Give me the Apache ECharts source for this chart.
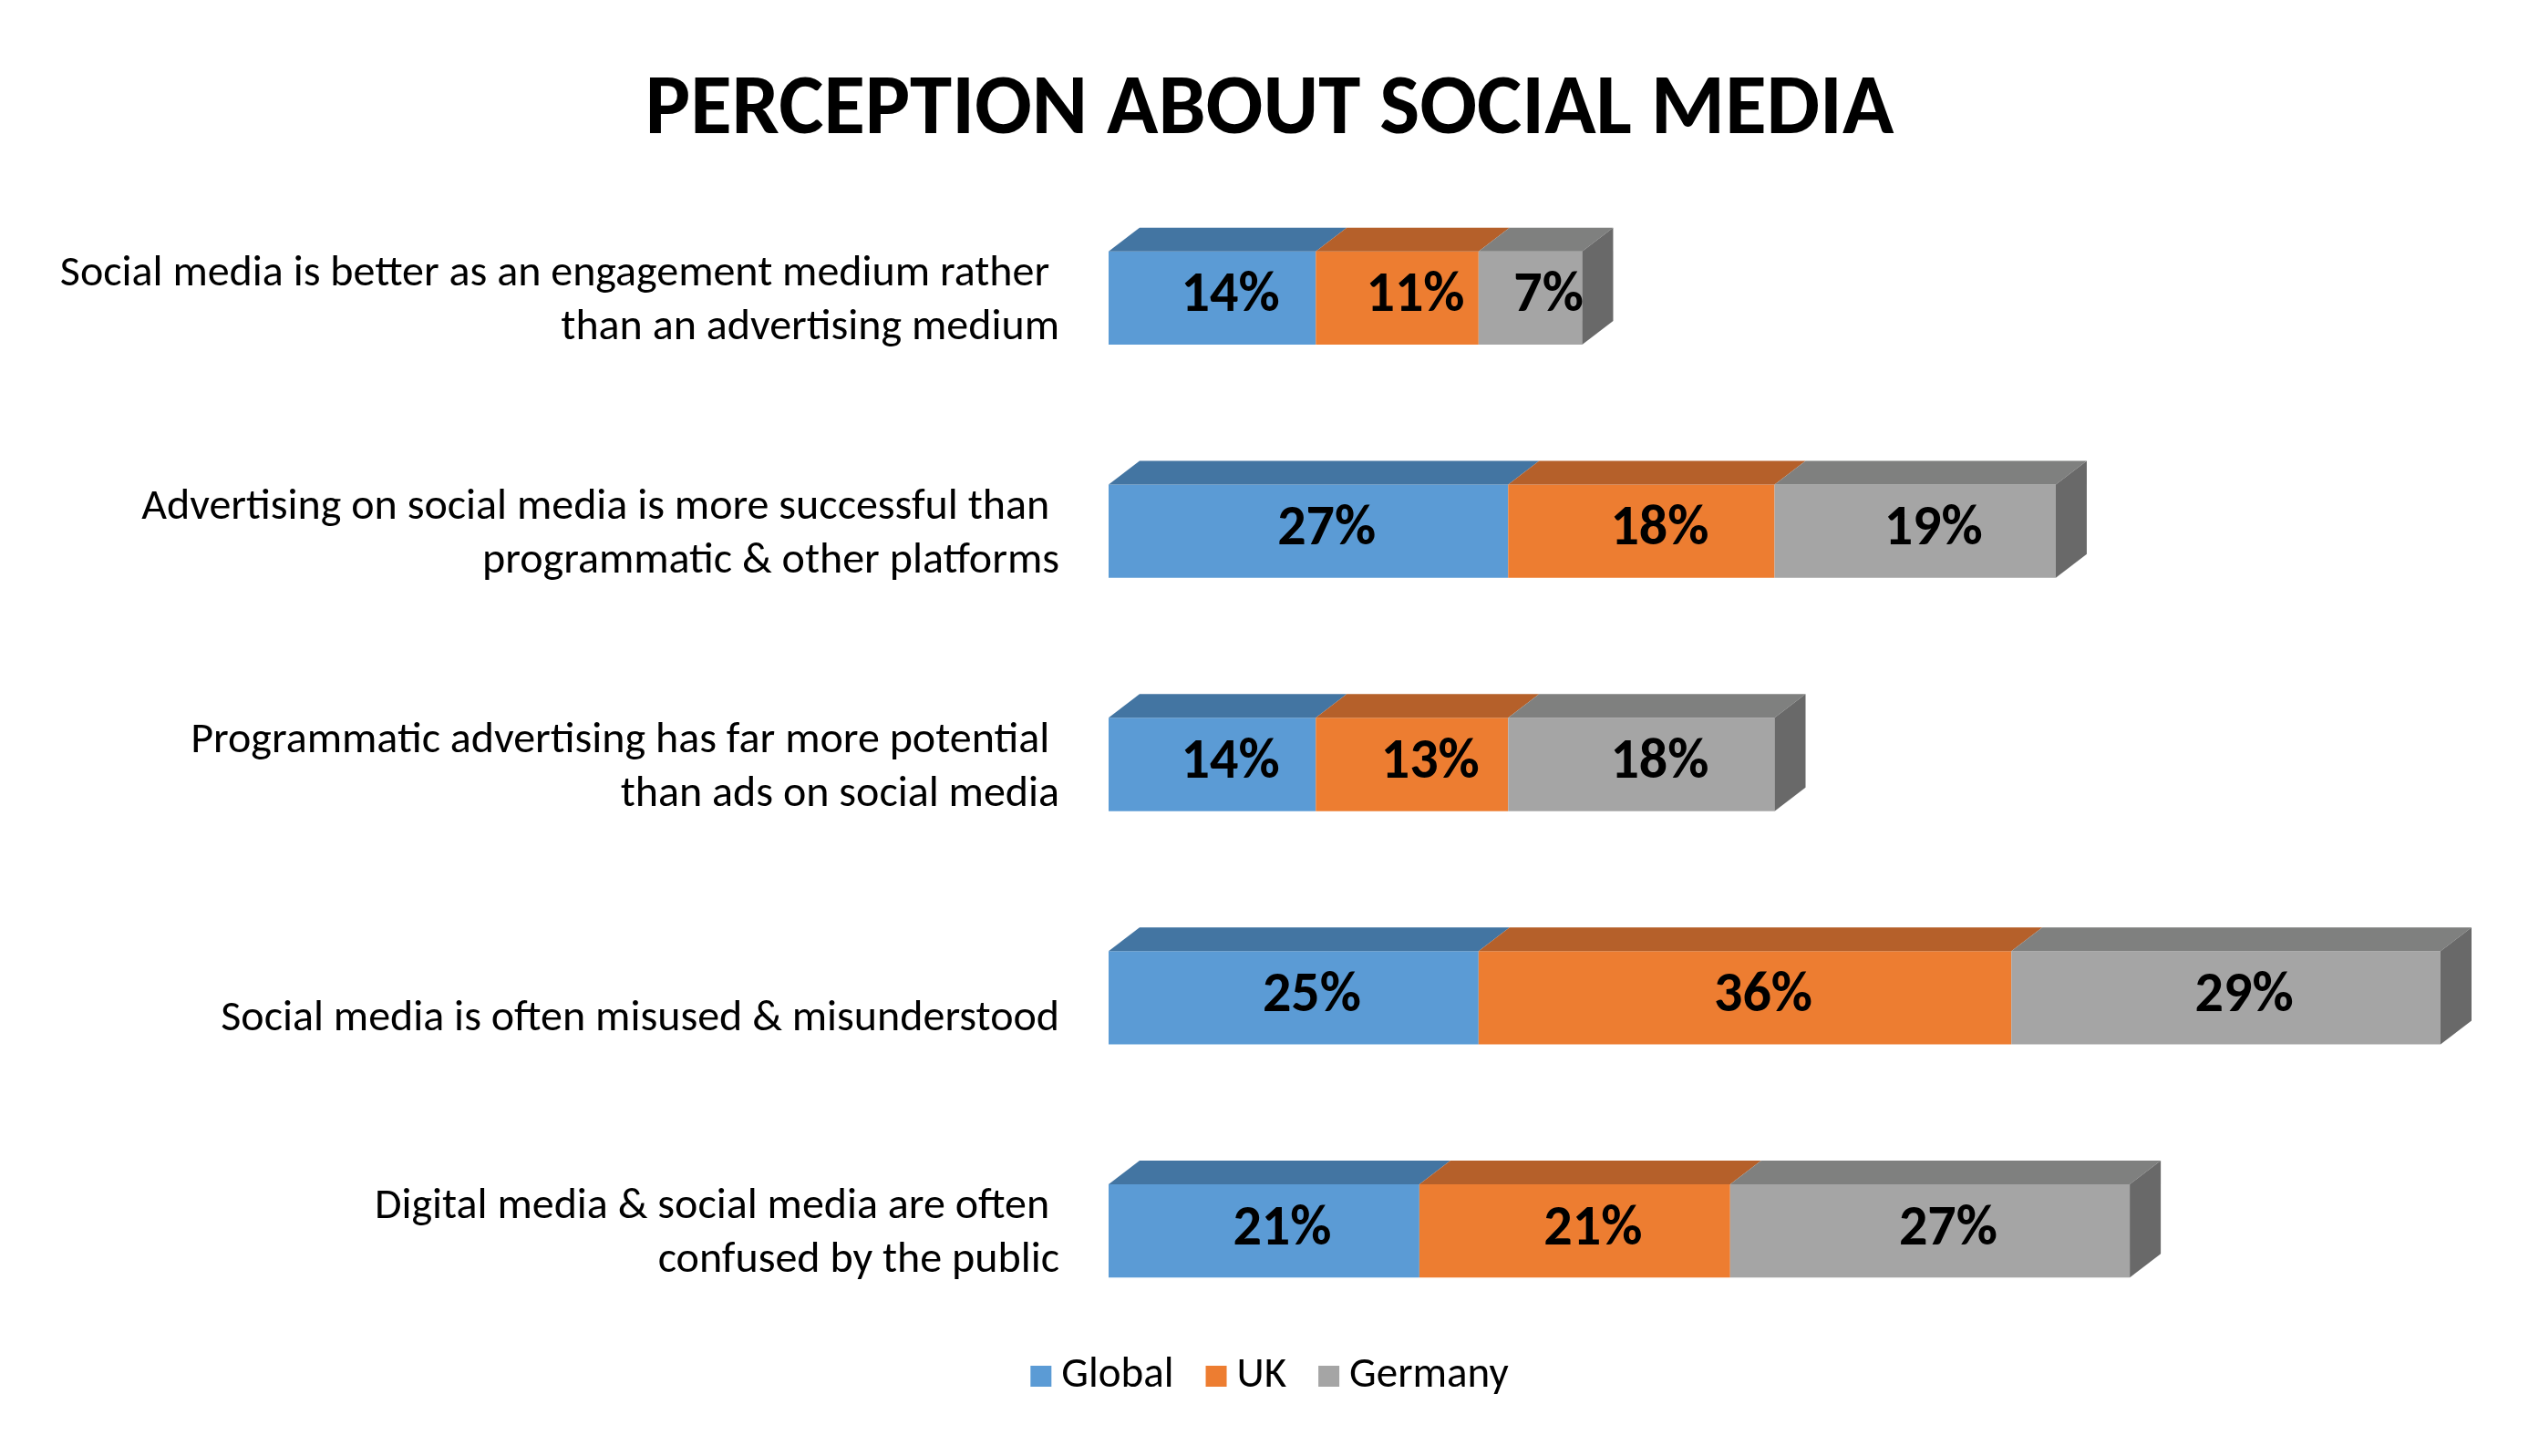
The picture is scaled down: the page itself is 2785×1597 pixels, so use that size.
<!DOCTYPE html>
<html lang="en">
  <head>
    <meta charset="UTF-8" />
    <title>Perception about social media</title>
    <script src="https://cdn.jsdelivr.net/npm/echarts@6/dist/echarts.min.js"></script>
    <style>
      html, body { margin: 0; padding: 0; background: #fff; }
      #chart { width: 2785px; height: 1597px; }
    </style>
  </head>
  <body>
    <div id="chart"></div>
    <script>
      // chart data
      const categories = [
        'Social media is better as an engagement medium rather \nthan an advertising medium',
        'Advertising on social media is more successful than \nprogrammatic & other platforms',
        'Programmatic advertising has far more potential \nthan ads on social media',
        'Social media is often misused & misunderstood',
        'Digital media & social media are often \nconfused by the public'
      ];
      const seriesNames = ['Global', 'UK', 'Germany'];
      const globalValues = [14, 27, 14, 25, 21];
      const ukValues = [11, 18, 13, 36, 21];
      const germanyValues = [7, 19, 18, 29, 27];

      const FONT = 'Carlito, Calibri, Lato, sans-serif';
      const frontColors = ['#5B9BD5', '#ED7D31', '#A5A5A5'];
      const topColors = ['#4375A2', '#B5602A', '#7F807F'];
      const sideColor = '#696969';
      const DX = 34, DY = 26;

      const allValues = [globalValues, ukValues, germanyValues];

      // [category index, start, value] so the segments stack
      function buildData(k) {
        return allValues[k].map(function (v, i) {
          let start = 0;
          for (let j = 0; j < k; j++) start += allValues[j][i];
          return [i, start, v];
        });
      }

      function makeRender(k) {
        return function (params, api) {
          const cat = api.value(0), start = api.value(1), val = api.value(2);
          const a = api.coord([start, cat]);
          const b = api.coord([start + val, cat]);
          const h = api.size([0, 1])[1] * 0.4;
          const y0 = a[1] - h / 2, y1 = a[1] + h / 2;
          const children = [
            {
              type: 'rect',
              shape: { x: a[0], y: y0, width: b[0] - a[0], height: h },
              style: { fill: frontColors[k] }
            },
            {
              type: 'polygon',
              shape: { points: [[a[0], y0], [a[0] + DX, y0 - DY], [b[0] + DX, y0 - DY], [b[0], y0]] },
              style: { fill: topColors[k] }
            }
          ];
          if (k === allValues.length - 1) {
            children.push({
              type: 'polygon',
              shape: { points: [[b[0], y0], [b[0] + DX, y0 - DY], [b[0] + DX, y1 - DY], [b[0], y1]] },
              style: { fill: sideColor }
            });
          }
          children.push({
            type: 'text',
            x: (a[0] + b[0]) / 2 + 20,
            y: a[1] - 1,
            style: {
              text: val + '%',
              align: 'center',
              verticalAlign: 'middle',
              fontFamily: FONT,
              fontWeight: 'bold',
              fontSize: 62,
              fill: '#000'
            }
          });
          return { type: 'group', children: children };
        };
      }

      const chart = echarts.init(document.getElementById('chart'));

      chart.setOption({
        backgroundColor: '#fff',
        animation: false,
        title: {
          text: 'PERCEPTION ABOUT SOCIAL MEDIA',
          left: 'center',
          top: 71,
          textStyle: { fontFamily: FONT, fontWeight: 'bold', fontSize: 93, color: '#000' }
        },
        legend: {
          data: seriesNames,
          bottom: 59,
          left: 'center',
          icon: 'rect',
          itemWidth: 23,
          itemHeight: 23,
          itemGap: 35,
          textStyle: { fontFamily: FONT, fontSize: 47, color: '#000', padding: [0, 0, 0, 6] }
        },
        grid: { left: 1216, right: 108, top: 199, bottom: 119, outerBoundsMode: 'none' },
        xAxis: { type: 'value', min: 0, max: 90, show: false },
        yAxis: {
          type: 'category',
          inverse: true,
          data: categories,
          axisLine: { show: false },
          axisTick: { show: false },
          splitLine: { show: false },
          axisLabel: {
            margin: 54,
            fontFamily: FONT,
            fontSize: 48,
            lineHeight: 59,
            color: '#000',
            align: 'right',
            padding: [7, 0, 0, 0],
            // single-line label sits a little lower in the original
            formatter: function (v) {
              return v.indexOf('\n') < 0 ? '{low|' + v + '}' : v;
            },
            rich: {
              low: { fontFamily: FONT, fontSize: 48, lineHeight: 59, color: '#000', padding: [40, 0, 0, 0] }
            }
          }
        },
        series: seriesNames.map(function (name, k) {
          return {
            name: name,
            type: 'custom',
            itemStyle: { color: frontColors[k] },
            encode: { x: [1, 2], y: 0 },
            data: buildData(k),
            renderItem: makeRender(k)
          };
        })
      });
    </script>
  </body>
</html>
